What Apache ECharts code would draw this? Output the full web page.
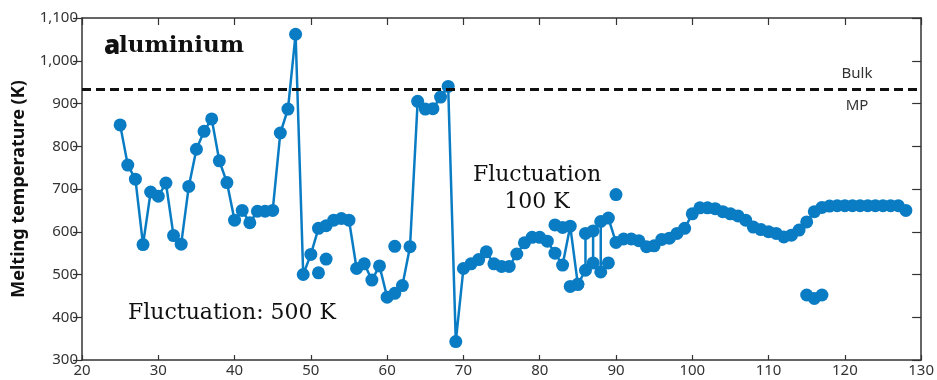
<!DOCTYPE html>
<html>
<head>
<meta charset="utf-8">
<script src="https://cdn.jsdelivr.net/npm/echarts@6/dist/echarts.min.js"></script>
<style>
  html, body { margin: 0; padding: 0; background: #fff; }
  #chart { width: 937px; height: 380px; }
</style>
</head>
<body>
<div id="chart"></div>
<script>
// Cluster size (number of atoms) vs melting temperature, aluminium clusters.
// Main trace, in drawing order: [size, melting temperature (K)]
const mainTrace = [
  [25, 850], [26, 756], [27, 723], [28, 570], [29, 693], [30, 683], [31, 714],
  [32, 591], [33, 571], [34, 706], [35, 793], [36, 835], [37, 864], [38, 766],
  [39, 715], [40, 627], [41, 650], [42, 621], [43, 648], [44, 648], [45, 650],
  [46, 831], [47, 887], [48, 1062], [49, 500], [50, 547], [51, 608], [52, 614],
  [53, 627], [54, 631], [55, 627], [56, 514], [57, 525], [58, 487], [59, 520],
  [60, 447], [61, 456], [62, 474], [63, 565], [64, 905], [65, 887], [66, 888],
  [67, 915], [68, 940], [69, 343], [70, 514], [71, 525], [72, 535], [73, 553],
  [74, 525], [75, 519], [76, 519], [77, 548], [78, 574], [79, 587], [80, 587],
  [81, 578], [82, 550], [83, 522], [84, 613], [85, 477], [84, 472], [85, 477],
  [86, 510], [86, 596], [87, 602], [87, 527], [88, 506], [88, 624], [89, 632],
  [90, 575], [91, 583], [92, 583], [93, 579], [94, 565], [95, 567], [96, 582],
  [97, 585], [98, 596], [99, 608], [100, 642], [101, 656], [102, 656], [103, 654],
  [104, 647], [105, 642], [106, 637], [107, 627], [108, 611], [109, 605], [110, 600],
  [111, 596], [112, 588], [113, 592], [114, 604], [115, 623], [116, 647], [117, 657],
  [118, 660], [119, 661], [120, 661], [121, 661], [122, 661], [123, 661], [124, 661],
  [125, 661], [126, 661], [127, 661], [128, 650]
];
// Second branch around sizes 82-89
const upperBranch = [[82, 616], [83, 610]];
const lowerBranch = [[89, 527]];
// Isolated points
const isolated = [[51, 504], [52, 536], [61, 566], [90, 687], [115, 452], [116, 444], [117, 452]];

const bulkMP = 933;
const xTicks = { min: 20, max: 130, interval: 10 };
const yTicks = { min: 300, max: 1100, interval: 100 };

const blue = '#0a7cc4';
const axisColor = '#333';
const sans = 'Noto Sans';

const chart = echarts.init(document.getElementById('chart'), null, { renderer: 'canvas' });

function dotSeries(data, withLine) {
  return {
    type: withLine ? 'line' : 'scatter',
    data: data,
    symbol: 'circle',
    symbolSize: 13,
    itemStyle: { color: blue, opacity: 1 },
    lineStyle: { color: blue, width: 2.5 },
    showSymbol: true,
    animation: false,
    silent: true,
    z: 3
  };
}

const mainSeries = dotSeries(mainTrace, true);
mainSeries.markLine = {
  silent: true,
  symbol: ['none', 'none'],
  label: { show: false },
  lineStyle: { color: '#111', width: 3, type: [9, 5] },
  data: [{ yAxis: bulkMP }],
  animation: false
};

const option = {
  backgroundColor: '#fff',
  animation: false,
  grid: { left: 82, right: 14, top: 18, bottom: 20 },
  xAxis: [
    {
      type: 'value', position: 'bottom',
      min: xTicks.min, max: xTicks.max, interval: xTicks.interval,
      axisLine: { show: true, onZero: false, lineStyle: { color: axisColor, width: 1.5 } },
      axisTick: { show: true, inside: true, length: 5, lineStyle: { color: axisColor, width: 1.2 } },
      axisLabel: { color: axisColor, fontFamily: sans, fontSize: 15, margin: 3 },
      splitLine: { show: false }
    },
    {
      type: 'value', position: 'top',
      min: xTicks.min, max: xTicks.max, interval: xTicks.interval,
      axisLine: { show: true, onZero: false, lineStyle: { color: axisColor, width: 1.5 } },
      axisTick: { show: true, inside: true, length: 7, lineStyle: { color: axisColor, width: 1.2 } },
      axisLabel: { show: false },
      splitLine: { show: false }
    }
  ],
  yAxis: [
    {
      type: 'value', position: 'left',
      min: yTicks.min, max: yTicks.max, interval: yTicks.interval,
      name: 'Melting temperature (K)',
      nameLocation: 'middle', nameGap: 54, nameRotate: 90,
      nameTextStyle: { color: '#111', fontFamily: sans, fontWeight: 'bold', fontSize: 18 },
      axisLine: { show: true, onZero: false, lineStyle: { color: axisColor, width: 1.5 } },
      axisTick: { show: true, inside: false, length: 9, lineStyle: { color: axisColor, width: 1.2 } },
      axisLabel: {
        color: axisColor, fontFamily: sans, fontSize: 15, margin: 4,
        formatter: v => v.toLocaleString('en-US')
      },
      splitLine: { show: false }
    },
    {
      type: 'value', position: 'right',
      min: yTicks.min, max: yTicks.max, interval: yTicks.interval,
      axisLine: { show: true, onZero: false, lineStyle: { color: axisColor, width: 1.5 } },
      axisTick: { show: true, inside: true, length: 9, lineStyle: { color: axisColor, width: 1.2 } },
      axisLabel: { show: false },
      splitLine: { show: false }
    }
  ],
  series: [
    mainSeries,
    dotSeries(upperBranch, true),
    dotSeries(lowerBranch, true),
    dotSeries(isolated, false)
  ],
  graphic: [
    { type: 'text', left: 104, top: 34,
      style: { text: 'a', fill: '#111', font: '900 26px "Noto Sans"' } },
    { type: 'text', left: 119, top: 35,
      style: { text: 'luminium', fill: '#111', font: 'bold 23px "DejaVu Serif"' } },
    { type: 'text', left: 128, top: 302,
      style: { text: 'Fluctuation: 500 K', fill: '#111', font: '22px "DejaVu Serif"' } },
    { type: 'text', x: 537, y: 162,
      style: { text: 'Fluctuation\n100 K', fill: '#111', font: '22px "DejaVu Serif"',
               align: 'center', lineHeight: 27 } },
    { type: 'text', x: 857, y: 66,
      style: { text: 'Bulk', fill: '#333', font: '15px "Noto Sans"', align: 'center' } },
    { type: 'text', x: 857, y: 98,
      style: { text: 'MP', fill: '#333', font: '15px "Noto Sans"', align: 'center' } }
  ]
};

chart.setOption(option);
</script>
</body>
</html>
